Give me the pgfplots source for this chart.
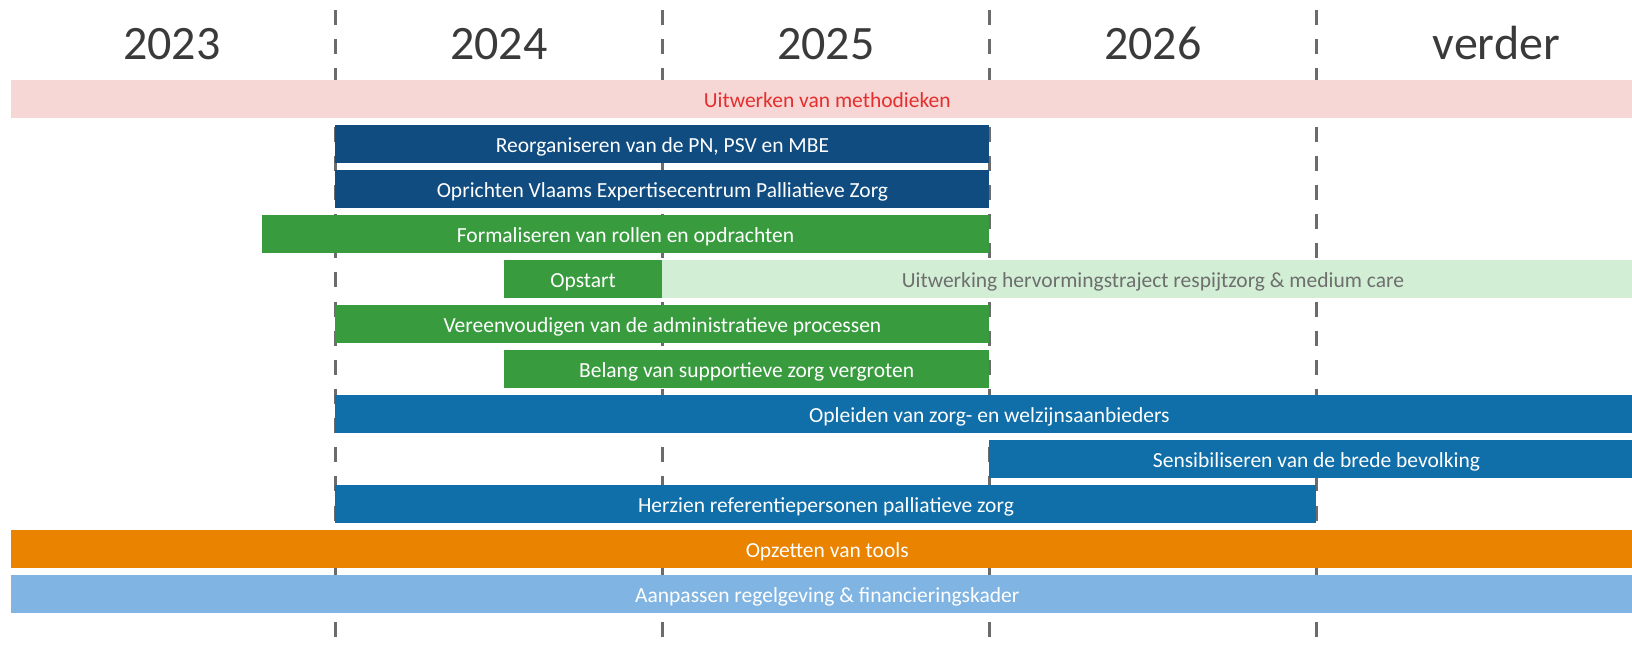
\documentclass[border=0pt]{standalone}
\usepackage{pgfplots}
\pgfplotsset{compat=1.18}
\usepackage{fontspec}
\setmainfont{Carlito}
\definecolor{pinkbar}{HTML}{F7D6D6}
\definecolor{redtxt}{HTML}{E3302D}
\definecolor{darkblue}{HTML}{104C80}
\definecolor{greenbar}{HTML}{389C3E}
\definecolor{lightgreen}{HTML}{D2EFD5}
\definecolor{graytxt}{HTML}{6E6E6E}
\definecolor{bluebar}{HTML}{106EA8}
\definecolor{orangebar}{HTML}{E98300}
\definecolor{lightblue}{HTML}{80B4E2}
\definecolor{yeartxt}{HTML}{3A3A3A}
\definecolor{gridc}{HTML}{6B6B6B}
\newcommand{\bartext}{\fontsize{21.5}{26}\selectfont}
\newcommand{\yeartext}{\fontsize{48}{56}\selectfont}
\begin{document}
\begin{tikzpicture}
\begin{axis}[
  width=1632pt, height=650pt, scale only axis, hide axis,
  xmin=-0.0257, xmax=4.965, ymin=-2.1967, ymax=12.248,
  y dir=reverse, clip=true,
]
% dashed year separators
\foreach \g in {1,2,3,4}{
  \edef\tmp{\noexpand\addplot[gridc, line width=3.2pt, dash pattern=on 15pt off 14.15pt] coordinates {(\g,-1.974) (\g,11.964)};}
  \tmp
}
% bars: (start,row-0.419) (end,row-0.419) (end,row+0.419) (start,row+0.419)
\addplot[fill=pinkbar, draw=none] coordinates {(0.008,-0.419) (4.965,-0.419) (4.965,0.419) (0.008,0.419)};
\addplot[fill=darkblue, draw=none] coordinates {(1,0.581) (3,0.581) (3,1.419) (1,1.419)};
\addplot[fill=darkblue, draw=none] coordinates {(1,1.581) (3,1.581) (3,2.419) (1,2.419)};
\addplot[fill=greenbar, draw=none] coordinates {(0.774,2.581) (3,2.581) (3,3.419) (0.774,3.419)};
\addplot[fill=greenbar, draw=none] coordinates {(1.515,3.581) (2,3.581) (2,4.419) (1.515,4.419)};
\addplot[fill=lightgreen, draw=none] coordinates {(2,3.581) (4.965,3.581) (4.965,4.419) (2,4.419)};
\addplot[fill=greenbar, draw=none] coordinates {(1,4.581) (3,4.581) (3,5.419) (1,5.419)};
\addplot[fill=greenbar, draw=none] coordinates {(1.515,5.581) (3,5.581) (3,6.419) (1.515,6.419)};
\addplot[fill=bluebar, draw=none] coordinates {(1,6.581) (4.965,6.581) (4.965,7.419) (1,7.419)};
\addplot[fill=bluebar, draw=none] coordinates {(3,7.581) (4.965,7.581) (4.965,8.419) (3,8.419)};
\addplot[fill=bluebar, draw=none] coordinates {(1,8.581) (4,8.581) (4,9.419) (1,9.419)};
\addplot[fill=orangebar, draw=none] coordinates {(0.008,9.581) (4.965,9.581) (4.965,10.419) (0.008,10.419)};
\addplot[fill=lightblue, draw=none] coordinates {(0.008,10.581) (4.965,10.581) (4.965,11.419) (0.008,11.419)};
% year labels
\node[anchor=base, text=yeartxt, font=\yeartext] at (axis cs:0.5,-0.879) {2023};
\node[anchor=base, text=yeartxt, font=\yeartext] at (axis cs:1.5,-0.879) {2024};
\node[anchor=base, text=yeartxt, font=\yeartext] at (axis cs:2.5,-0.879) {2025};
\node[anchor=base, text=yeartxt, font=\yeartext] at (axis cs:3.5,-0.879) {2026};
\node[anchor=base, text=yeartxt, font=\yeartext] at (axis cs:4.55,-0.879) {verder};
% bar labels
\node[anchor=base, text=redtxt, font=\bartext] at (axis cs:2.504,0.187) {Uitwerken van methodieken};
\node[anchor=base, text=white, font=\bartext] at (axis cs:2,1.187) {Reorganiseren van de PN, PSV en MBE};
\node[anchor=base, text=white, font=\bartext] at (axis cs:2,2.187) {Oprichten Vlaams Expertisecentrum Palliatieve Zorg};
\node[anchor=base, text=white, font=\bartext] at (axis cs:1.887,3.187) {Formaliseren van rollen en opdrachten};
\node[anchor=base, text=white, font=\bartext] at (axis cs:1.7575,4.187) {Opstart};
\node[anchor=base, text=graytxt, font=\bartext] at (axis cs:3.5,4.187) {Uitwerking hervormingstraject respijtzorg \& medium care};
\node[anchor=base, text=white, font=\bartext] at (axis cs:2,5.187) {Vereenvoudigen van de administratieve processen};
\node[anchor=base, text=white, font=\bartext] at (axis cs:2.2575,6.187) {Belang van supportieve zorg vergroten};
\node[anchor=base, text=white, font=\bartext] at (axis cs:3,7.187) {Opleiden van zorg- en welzijnsaanbieders};
\node[anchor=base, text=white, font=\bartext] at (axis cs:4,8.187) {Sensibiliseren van de brede bevolking};
\node[anchor=base, text=white, font=\bartext] at (axis cs:2.5,9.187) {Herzien referentiepersonen palliatieve zorg};
\node[anchor=base, text=white, font=\bartext] at (axis cs:2.504,10.187) {Opzetten van tools};
\node[anchor=base, text=white, font=\bartext] at (axis cs:2.504,11.187) {Aanpassen regelgeving \& financieringskader};
\end{axis}
\path (current axis.south west) rectangle (current axis.north east);
\end{tikzpicture}
\end{document}
